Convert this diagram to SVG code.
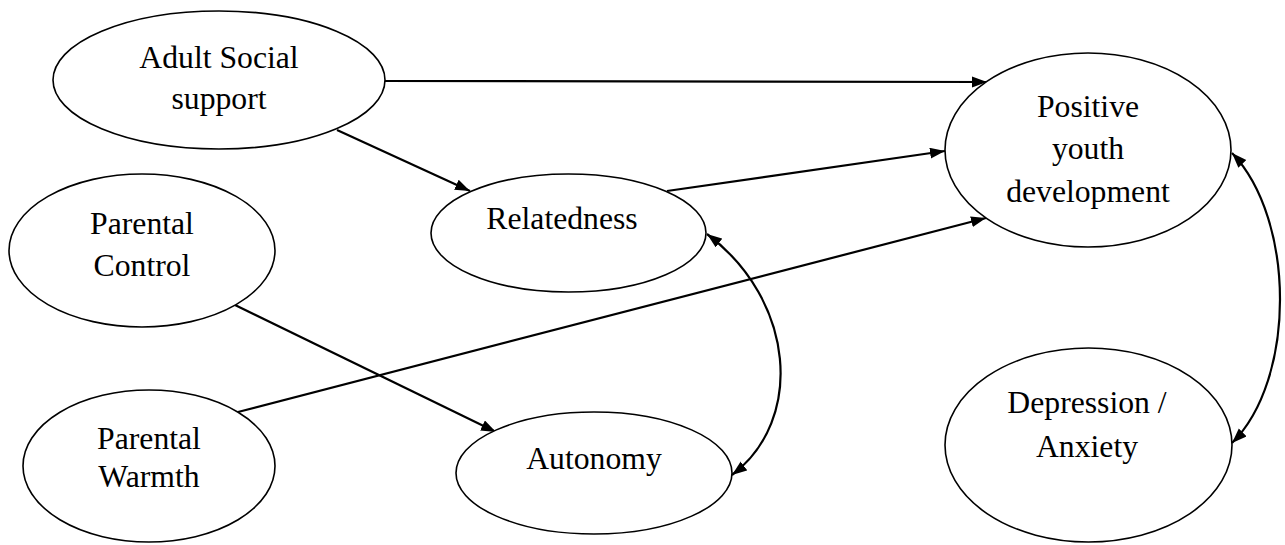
<svg xmlns="http://www.w3.org/2000/svg" width="1285" height="545" viewBox="0 0 1285 545">
<style>
.node ellipse{fill:#fff;stroke:#000;stroke-width:1.6}
.node text{font-family:"Liberation Serif","Times New Roman",serif;font-size:31.7px;fill:#000;text-anchor:middle}
.edges path,.edges line{fill:none;stroke:#000;stroke-width:2.2}
</style>
<defs>
<marker id="arr" markerUnits="userSpaceOnUse" markerWidth="16" markerHeight="12" refX="15" refY="5.5" orient="auto-start-reverse" viewBox="0 0 16 12">
<path d="M0,0 L15,5.5 L0,11 z" fill="#000"/>
</marker>
</defs>
<rect width="1285" height="545" fill="#fff"/>
<g class="edges" id="connectors">
<line x1="384" y1="81" x2="987" y2="82" marker-end="url(#arr)"/>
<line x1="337" y1="130" x2="470" y2="191" marker-end="url(#arr)"/>
<line x1="667" y1="191" x2="945" y2="151" marker-end="url(#arr)"/>
<line x1="238" y1="412" x2="986" y2="218" marker-end="url(#arr)"/>
<line x1="235" y1="305" x2="496" y2="432" marker-end="url(#arr)"/>
<path d="M707,234 C795,300 805,420 732,475" marker-start="url(#arr)" marker-end="url(#arr)"/>
<path d="M1232,153 C1296,220 1296,380 1232,443" marker-start="url(#arr)" marker-end="url(#arr)"/>
</g>
<g class="node" id="adult-social-support">
<ellipse cx="219" cy="80" rx="166" ry="69"/>
<text x="219" y="68">Adult Social</text>
<text x="219" y="109">support</text>
</g>
<g class="node" id="positive-youth-development">
<ellipse cx="1088" cy="150" rx="143" ry="97"/>
<text x="1088" y="117">Positive</text>
<text x="1088" y="159">youth</text>
<text x="1088" y="202">development</text>
</g>
<g class="node" id="relatedness">
<ellipse cx="568.5" cy="233" rx="137.5" ry="59"/>
<text x="562" y="229">Relatedness</text>
</g>
<g class="node" id="parental-control">
<ellipse cx="142" cy="250.5" rx="133" ry="76.5"/>
<text x="142" y="234">Parental</text>
<text x="142" y="276">Control</text>
</g>
<g class="node" id="parental-warmth">
<ellipse cx="149" cy="466" rx="126" ry="76"/>
<text x="149" y="449">Parental</text>
<text x="149" y="487">Warmth</text>
</g>
<g class="node" id="autonomy">
<ellipse cx="594" cy="473" rx="138" ry="61"/>
<text x="594" y="469">Autonomy</text>
</g>
<g class="node" id="depression-anxiety">
<ellipse cx="1088.5" cy="445" rx="143.5" ry="97"/>
<text x="1087" y="413">Depression /</text>
<text x="1087" y="457">Anxiety</text>
</g>
</svg>
